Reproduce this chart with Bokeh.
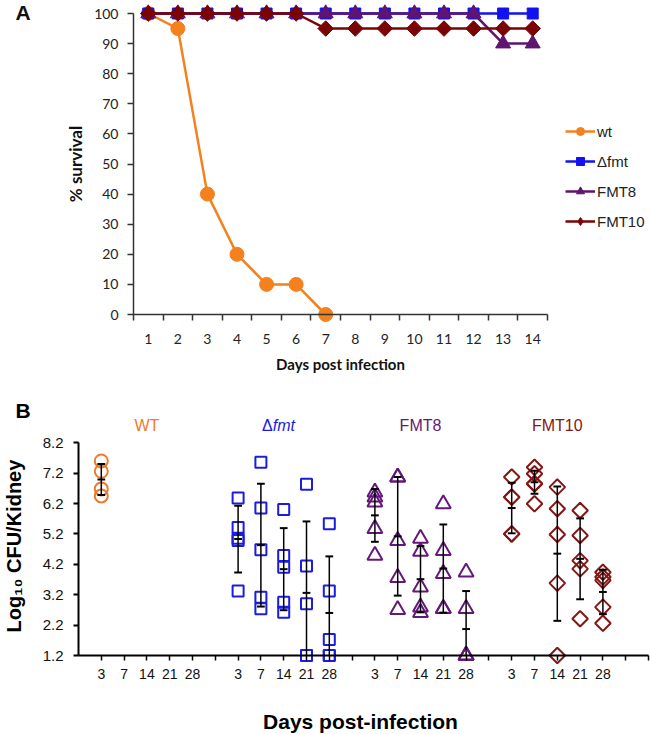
import math
from bokeh.plotting import figure
from bokeh.models import FixedTicker, Legend, LegendItem, Label, Range1d
from bokeh.layouts import column
from bokeh.embed import file_html
from bokeh.resources import INLINE

# ---------------- Panel A data: % survival ----------------
days_a = [1, 2, 3, 4, 5, 6, 7, 8, 9, 10, 11, 12, 13, 14]
wt_days = [1, 2, 3, 4, 5, 6, 7]
wt_surv = [100, 95, 40, 20, 10, 10, 0]
dfmt_surv = [100, 100, 100, 100, 100, 100, 100, 100, 100, 100, 100, 100, 100, 100]
fmt8_surv = [100, 100, 100, 100, 100, 100, 100, 100, 100, 100, 100, 100, 90, 90]
fmt10_surv = [100, 100, 100, 100, 100, 100, 95, 95, 95, 95, 95, 95, 95, 95]
surv_ticks = [0, 10, 20, 30, 40, 50, 60, 70, 80, 90, 100]

# ---------------- Panel B data: Log10 CFU/Kidney ----------------
groups_b = ["WT", "Δfmt", "FMT8", "FMT10"]
days_b = [3, 7, 14, 21, 28]
wt_cfu = [[7.60, 7.26, 6.68, 6.45], [], [], [], []]
dfmt_cfu = [[6.38, 5.41, 5.06, 4.98, 3.32], [7.56, 6.05, 4.68, 3.12, 2.74],
            [6.00, 4.49, 4.10, 2.95, 2.62], [6.83, 4.14, 2.90, 1.20, 1.20],
            [5.53, 3.32, 1.73, 1.20, 1.20]]
fmt8_cfu = [[6.57, 6.41, 6.24, 5.37, 4.49], [7.07, 7.07, 4.98, 3.76, 2.71],
            [5.05, 4.62, 3.45, 2.79, 2.61], [6.19, 4.65, 3.89, 2.74, 2.74],
            [3.94, 2.74, 1.20, 1.20, 1.20]]
fmt10_cfu = [[7.07, 6.41, 6.41, 5.20, 5.20], [7.39, 7.18, 6.85, 6.85, 6.19],
             [6.74, 6.03, 5.18, 3.58, 1.20], [5.97, 5.15, 4.32, 4.05, 2.41],
             [3.94, 3.78, 3.67, 2.79, 2.26]]
# error bars (mean and SD)
wt_mean = [6.99, None, None, None, None]
wt_sd = [0.51, None, None, None, None]
dfmt_mean = [5.03, 4.83, 4.04, 3.26, 2.60]
dfmt_sd = [1.10, 2.02, 1.35, 2.35, 1.86]
fmt8_mean = [5.81, 5.12, 3.71, 4.06, 2.07]
fmt8_sd = [0.87, 1.95, 1.09, 1.45, 1.25]
fmt10_mean = [6.05, 6.90, 4.55, 4.38, 3.29]
fmt10_sd = [0.83, 0.38, 2.21, 1.33, 0.73]
cfu_ticks = [1.2, 2.2, 3.2, 4.2, 5.2, 6.2, 7.2, 8.2]

# colours
C_WT_A, C_DF_A, C_F8_A, C_F10_A = "#F5801E", "#1212F0", "#5E1470", "#7A0404"
C_WT_B, C_DF_B, C_F8_B, C_F10_B = "#EE7A2C", "#1C1CE0", "#64197A", "#861616"
FONT_A = "Lato"
FONT_B = "Liberation Sans"

# ---------------- layout (pixels) ----------------
W = 650
A_H, B_H = 398, 336
# panel A: category 0.5 at x=133 px, 29.57 px per day; 0 % at y=314 px, 3.01 px per %
A_X0, A_XS, A_Y0, A_YS = 133, 29.57, 314, 3.01
# panel B: slot 0 at x=78 px, 22.8 px per slot; 1.2 at y=257 px (in panel), 30.4 px per unit
B_X0, B_XS, B_Y0, B_YS = 78, 22.8, 257, 30.4


def fig(h, xr, yr):
    p = figure(width=W, height=h, x_range=xr, y_range=yr, output_backend="svg",
               toolbar_location=None, min_border_left=0, min_border_right=0,
               min_border_top=0, min_border_bottom=0)
    p.outline_line_color = None
    p.grid.visible = False
    p.border_fill_color = "white"
    return p


# ======================= Panel A =======================
xa_lo = 0.5 - A_X0 / A_XS
xa_hi = 0.5 + (W - A_X0) / A_XS
ya_hi = A_Y0 / A_YS
ya_lo = -(A_H - A_Y0) / A_YS
pA = fig(A_H, Range1d(xa_lo, xa_hi), Range1d(ya_lo, ya_hi))

ya = pA.yaxis[0]
ya.fixed_location = 0.5
ya.ticker = FixedTicker(ticks=surv_ticks)
ya.bounds = (0, 100)
ya.major_tick_out = 6
ya.major_tick_in = 0
ya.minor_tick_line_color = None
ya.major_label_standoff = 9
ya.major_label_text_font = FONT_A
ya.major_label_text_font_size = "14px"
ya.major_label_text_color = "#222222"
ya.axis_line_color = "#333333"
ya.axis_line_width = 1.5
ya.major_tick_line_color = "#333333"
ya.major_tick_line_width = 1.5

xa = pA.xaxis[0]
xa.fixed_location = 0
xa.bounds = (0.5, 14.5)
xa.ticker = FixedTicker(ticks=days_a, minor_ticks=[d - 0.5 for d in days_a] + [days_a[-1] + 0.5])
xa.major_tick_line_color = None
xa.major_tick_out = 0
xa.major_tick_in = 0
xa.minor_tick_out = 6
xa.minor_tick_in = 0
xa.minor_tick_line_color = "#333333"
xa.minor_tick_line_width = 1.5
xa.axis_line_color = "#333333"
xa.axis_line_width = 1.5
xa.major_label_standoff = 13
xa.major_label_text_font = FONT_A
xa.major_label_text_font_size = "14px"
xa.major_label_text_color = "#222222"

series_a = [
    ("wt", wt_days, wt_surv, C_WT_A, "circle", 14, 0),
    ("Δfmt", days_a, dfmt_surv, C_DF_A, "square", 11, 0),
    ("FMT8", days_a, fmt8_surv, C_F8_A, "triangle", 15, 0),
    ("FMT10", days_a, fmt10_surv, C_F10_A, "square", 11, math.pi / 4),
]
items = []
for name, xs, ys, col, mk, sz, ang in series_a:
    lr = pA.line(xs, ys, line_color=col, line_width=2.5)
    sr = pA.scatter(xs, ys, marker=mk, size=sz, angle=ang, fill_color=col, line_color=col)
    if ang:
        # legend swatch: the rotated square is drawn unrotated in legends, so use a diamond
        sr = pA.scatter(xs, ys, marker="diamond", size=sz, fill_color=col, line_color=col,
                        visible=False)
    items.append(LegendItem(label=name, renderers=[lr, sr]))

legend = Legend(items=items, location=(565, 167), glyph_width=30, glyph_height=20,
                label_height=20, spacing=10, padding=0, margin=0,
                border_line_color=None, background_fill_alpha=0,
                label_text_font=FONT_B, label_text_font_size="15px",
                label_text_color="#222222", label_standoff=2)
pA.add_layout(legend)

# titles and panel letter (positions in data units of panel A)
pA.add_layout(Label(x=0.5 + (75 - A_X0) / A_XS, y=50, text="% survival", angle=math.pi / 2,
                    text_font=FONT_A, text_font_size="17px", text_font_style="bold",
                    text_align="center", text_baseline="middle", text_color="#111111"))
pA.add_layout(Label(x=(days_a[0] + days_a[-1]) / 2, y=-(363 - A_Y0) / A_YS,
                    text="Days post infection", text_font=FONT_A, text_font_size="15px",
                    text_font_style="bold", text_align="center", text_baseline="middle",
                    text_color="#111111"))
pA.add_layout(Label(x=0.5 + (15 - A_X0) / A_XS, y=(A_Y0 - 12) / A_YS, text="A",
                    text_font=FONT_B, text_font_size="21px", text_font_style="bold",
                    text_baseline="middle", text_align="left", text_color="#111111"))

# ======================= Panel B =======================
xb_lo = -B_X0 / B_XS
xb_hi = (W - B_X0) / B_XS
yb_hi = 1.2 + B_Y0 / B_YS
yb_lo = 1.2 - (B_H - B_Y0) / B_YS
pB = fig(B_H, Range1d(xb_lo, xb_hi), Range1d(yb_lo, yb_hi))

yb = pB.yaxis[0]
yb.fixed_location = 0
yb.ticker = FixedTicker(ticks=cfu_ticks)
yb.bounds = (1.2, 8.2)
yb.major_tick_out = 5
yb.major_tick_in = 0
yb.minor_tick_line_color = None
yb.axis_line_width = 2
yb.axis_line_color = "black"
yb.major_tick_line_width = 2
yb.major_label_standoff = 10
yb.major_label_text_font = FONT_B
yb.major_label_text_font_size = "15px"
yb.major_label_text_color = "#111111"

slot_ticks = list(range(1, 26))
labels_b = {t: "" for t in slot_ticks}
for g in range(len(groups_b)):
    for d, day in enumerate(days_b):
        labels_b[1 + 6 * g + d] = str(day)

xb = pB.xaxis[0]
xb.fixed_location = 1.2
xb.bounds = (0, 25)
xb.ticker = FixedTicker(ticks=slot_ticks)
xb.major_label_overrides = labels_b
xb.major_tick_out = 5
xb.major_tick_in = 0
xb.minor_tick_line_color = None
xb.axis_line_width = 2
xb.axis_line_color = "black"
xb.major_tick_line_width = 1.5
xb.major_label_standoff = 8
xb.major_label_text_font = FONT_B
xb.major_label_text_font_size = "14px"
xb.major_label_text_color = "#111111"

series_b = [
    (wt_cfu, wt_mean, wt_sd, C_WT_B, "circle", 13, 0),
    (dfmt_cfu, dfmt_mean, dfmt_sd, C_DF_B, "square", 11, 0),
    (fmt8_cfu, fmt8_mean, fmt8_sd, C_F8_B, "triangle", 15, 0),
    (fmt10_cfu, fmt10_mean, fmt10_sd, C_F10_B, "square", 11, math.pi / 4),
]
y_floor = cfu_ticks[0]
cap = 0.17
for g, (vals, means, sds, col, mk, sz, ang) in enumerate(series_b):
    xs, ys = [], []
    for d, dayvals in enumerate(vals):
        for v in dayvals:
            xs.append(1 + 6 * g + d)
            ys.append(v)
    pB.scatter(xs, ys, marker=mk, size=sz, angle=ang, fill_color=None,
               line_color=col, line_width=2)
    vx0, vy0, vx1, vy1 = [], [], [], []
    cx0, cx1, cy = [], [], []
    for d in range(len(days_b)):
        m, s = means[d], sds[d]
        if m is None:
            continue
        x = 1 + 6 * g + d
        lo, hi = m - s, m + s
        vx0.append(x); vx1.append(x); vy0.append(max(lo, y_floor)); vy1.append(hi)
        for yy in ([hi, m] + ([lo] if lo >= y_floor else [])):
            cx0.append(x - cap); cx1.append(x + cap); cy.append(yy)
    pB.segment(vx0, vy0, vx1, vy1, line_color="black", line_width=1.5)
    pB.segment(cx0, cy, cx1, cy, line_color="black", line_width=2)

label_colors = [C_WT_B, C_DF_B, C_F8_B, C_F10_B]
y_grp = 1.2 + (B_Y0 - 27) / B_YS
for g, name in enumerate(groups_b):
    xc = 1 + 6 * g + 2
    if name == "Δfmt":
        pB.add_layout(Label(x=xc, y=y_grp, x_offset=-11, text="Δ", text_font=FONT_B,
                            text_font_size="16px", text_color=label_colors[g],
                            text_align="right", text_baseline="middle"))
        pB.add_layout(Label(x=xc, y=y_grp, x_offset=-11, text="fmt", text_font=FONT_B,
                            text_font_size="16px", text_font_style="italic",
                            text_color=label_colors[g], text_align="left",
                            text_baseline="middle"))
    else:
        pB.add_layout(Label(x=xc, y=y_grp, text=name, text_font=FONT_B, text_font_size="16px",
                            text_color=label_colors[g], text_align="center",
                            text_baseline="middle"))

pB.add_layout(Label(x=(15 - B_X0) / B_XS, y=1.2 + (B_Y0 - 12) / B_YS, text="B",
                    text_font=FONT_B, text_font_size="21px", text_font_style="bold",
                    text_baseline="middle", text_align="left", text_color="black"))
pB.add_layout(Label(x=(13 - B_X0) / B_XS, y=4.8, text="Log₁₀ CFU/Kidney", angle=math.pi / 2,
                    text_font=FONT_B, text_font_size="20px", text_font_style="bold",
                    text_align="center", text_baseline="middle", text_color="black"))
pB.add_layout(Label(x=(360 - B_X0) / B_XS, y=1.2 - (323 - B_Y0) / B_YS,
                    text="Days post-infection", text_font=FONT_B, text_font_size="21px",
                    text_font_style="bold", text_align="center", text_baseline="middle",
                    text_color="black"))

layout = column(pA, pB, spacing=0)
open("out.html", "w").write(file_html(layout, INLINE))
